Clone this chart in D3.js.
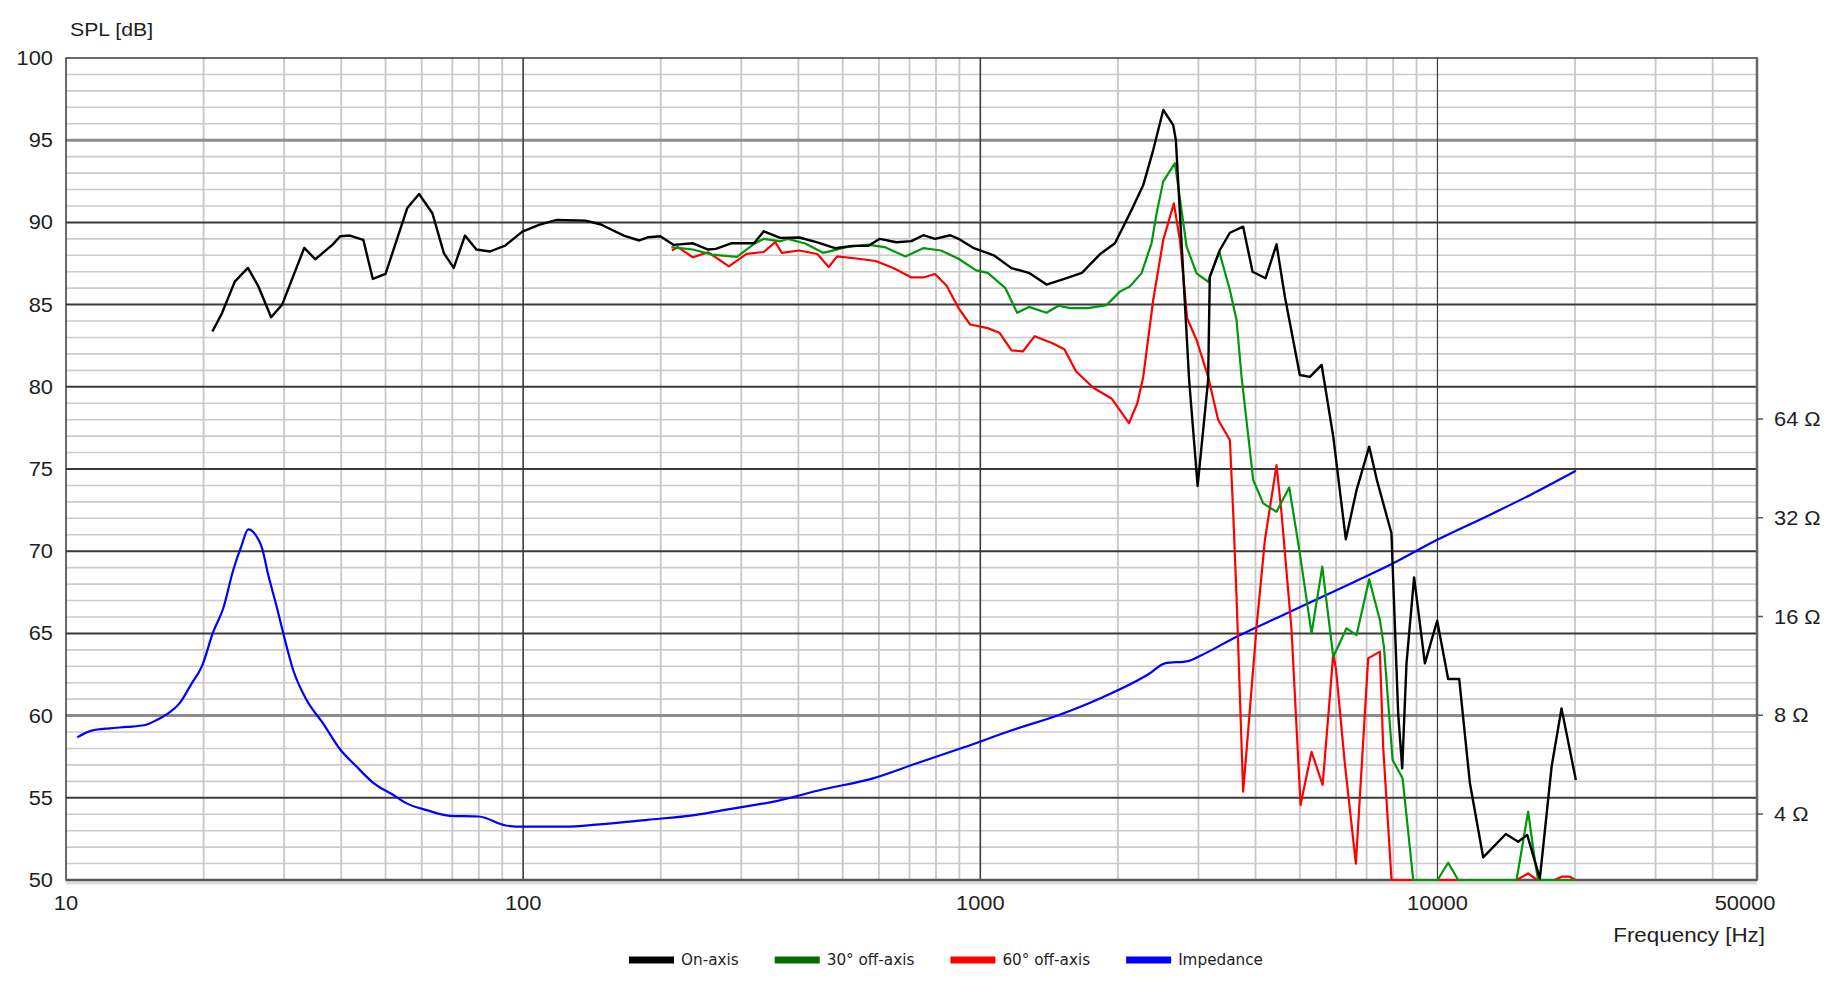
<!DOCTYPE html>
<html>
<head>
<meta charset="utf-8">
<script src="https://d3js.org/d3.v7.min.js"></script>
<style>
  html, body { margin: 0; padding: 0; background: #fff; }
  svg { display: block; }
</style>
</head>
<body>
<svg id="chart" width="1844" height="996"></svg>
<script>
// ---------------- DATA ----------------
const splTicks = [50, 55, 60, 65, 70, 75, 80, 85, 90, 95, 100];
const freqTicks = [10, 100, 1000, 10000, 50000];
const impTicks = [4, 8, 16, 32, 64];
const seriesNames = ["On-axis", "30° off-axis", "60° off-axis", "Impedance"];

// [frequency Hz, SPL dB]
const onAxis = [
  [20.9,83.36],[21.9,84.43],[23.4,86.4],[25.0,87.23],[26.3,86.16],[28.1,84.23],[29.7,85.0],
  [33.2,88.45],[35.1,87.76],[38.3,88.65],[39.8,89.16],[41.8,89.2],[44.7,88.94],[46.9,86.56],
  [50,86.87],[55.8,90.88],[59.2,91.73],[63.3,90.56],[67.1,88.12],[70.5,87.23],[74.6,89.2],
  [79,88.35],[84.6,88.23],[91.3,88.59],[99.6,89.44],[108.7,89.87],[118.5,90.15],[137,90.11],
  [148,89.87],[166,89.2],[179.5,88.9],[188,89.1],[199.5,89.16],[213.5,88.63],[235,88.73],
  [254,88.35],[264,88.39],[285,88.73],[320,88.73],[336,89.46],[365,89.06],[402,89.08],
  [440,88.79],[481,88.43],[526,88.57],[568,88.57],[603,89.0],[655,88.79],[707,88.86],
  [750,89.22],[796,89.0],[860,89.22],[896,89.0],[968,88.43],[1070,88.0],[1170,87.22],
  [1277,86.93],[1396,86.22],[1527,86.57],[1668,86.93],[1826,88.06],[1970,88.73],[2054,89.74],
  [2160,90.96],[2272,92.27],[2389,94.4],[2513,96.84],[2642,95.92],[2678,95.0],[2863,80.4],
  [2988,73.97],[3150,80.4],[3177,86.7],[3342,88.32],[3515,89.37],[3758,89.74],[3940,87.0],
  [4207,86.6],[4446,88.67],[4637,85.48],[5000,80.72],[5260,80.6],[5580,81.33],[5916,76.97],
  [6303,70.72],[6653,73.72],[7090,76.36],[7370,74.33],[7931,71.09],[8204,60.14],[8373,56.79],
  [8556,63.18],[8890,68.41],[9385,63.18],[9986,65.77],[10554,62.23],[11156,62.23],[11776,55.88],
  [12589,51.38],[14113,52.8],[15020,52.33],[15714,52.74],[16750,50.1],[17770,56.9],
  [18680,60.44],[20080,56.08]
];

const offAxis30 = [
  [211,88.5],[235,88.35],[259,88.04],[293.5,87.9],[320,88.7],[336,89.0],[365,88.85],[379,89.0],
  [414,88.72],[453,88.15],[510,88.5],[567,88.65],[617,88.5],[686,87.93],[750,88.43],[820,88.29],
  [896,87.79],[979,87.08],[1038,86.93],[1135,86.0],[1204,84.5],[1277,84.86],[1396,84.5],
  [1482,84.93],[1572,84.79],[1719,84.79],[1889,84.97],[2020,85.79],[2123,86.1],[2252,86.9],
  [2369,88.73],[2430,90.55],[2512,92.48],[2665,93.6],[2710,92.17],[2827,88.52],[2972,86.9],
  [3151,86.39],[3331,88.22],[3515,85.89],[3635,84.06],[3728,80.6],[3954,74.33],[4157,72.91],
  [4446,72.4],[4740,73.88],[5000,69.87],[5304,65.0],[5598,69.06],[5916,63.58],[6326,65.31],
  [6653,64.9],[7090,68.29],[7482,65.82],[7636,64.2],[7978,57.3],[8388,56.19],[8851,50],
  [10000,50],[10554,51.05],[11100,50],[14893,50],[15790,54.16],[16330,51.2],[16600,50],[20000,50]
];

const offAxis60 = [
  [211.5,88.29],[218,88.5],[235,87.88],[254,88.18],[282,87.33],[308,88.08],[336,88.2],[356,88.8],
  [368,88.15],[402,88.29],[440,88.08],[466,87.29],[486,87.93],[541,87.79],[590,87.65],[645,87.22],
  [707,86.65],[750,86.65],[796,86.86],[844,86.15],[896,84.79],[950,83.79],[1038,83.57],
  [1101,83.29],[1170,82.22],[1239,82.15],[1315,83.08],[1439,82.65],[1527,82.29],[1620,80.93],
  [1770,79.93],[1936,79.29],[2115,77.79],[2205,79.0],[2272,80.6],[2389,85.28],[2513,88.93],
  [2651,91.16],[2733,88.93],[2834,84.17],[2972,82.85],[3151,80.6],[3314,77.98],[3515,76.76],
  [3575,72.3],[3635,67.23],[3758,55.37],[3855,59.12],[4021,65.41],[4193,70.68],[4446,75.24],
  [4560,72.3],[4795,65.21],[5018,54.56],[5304,57.8],[5608,55.78],[5816,61.15],[5916,63.79],
  [6000,62.8],[6271,57.1],[6630,51.0],[7054,63.48],[7482,63.89],[7607,58.1],[7935,50],
  [14893,50],[15790,50.4],[16500,50],[18000,50],[18700,50.2],[19500,50.2],[20000,50]
];

// [frequency Hz, impedance Ohm]
const impedance = [
  [10.58,6.85],[11.38,7.18],[12.48,7.30],[13.58,7.37],[14.89,7.47],[15.79,7.74],[16.61,8.05],
  [17.76,8.74],[18.84,10.01],[19.81,11.25],[21.0,14.38],[22.08,16.95],[23.22,22.18],[24.23,26.42],
  [25.04,29.5],[26.34,27.5],[26.79,26.1],[27.7,21.4],[28.9,17.13],[29.87,14.22],[31.4,10.99],
  [33.6,8.90],[36.5,7.56],[39.76,6.30],[43.2,5.58],[47.0,4.98],[52.0,4.57],[55.6,4.31],
  [61.5,4.11],[69.2,3.95],[80,3.93],[91.6,3.69],[100,3.66],[123,3.66],[147,3.72],[187,3.84],
  [237,3.97],[283,4.14],[358,4.38],[454,4.76],[575,5.11],[729,5.72],[925,6.4],[1172,7.2],
  [1480,8.0],[1826,9.0],[2350,10.74],[2533,11.52],[2850,11.70],[3022,12.13],[3636,13.88],
  [4598,16.17],[5916,19.04],[8000,23.24],[10037,27.5],[12805,32.3],[15930,37.5],[20080,44.5]
];

// ---------------- LAYOUT ----------------
const L = 66, R = 1757, T = 58, B = 880;
const svg = d3.select("#chart");
const x = d3.scaleLog().domain([10, 50000]).range([L, R]);
const y = d3.scaleLinear().domain([50, 100]).range([B, T]);
const yZ = d3.scaleLog().base(2).domain([4, 64]).range([814, 419]);

const FONT = "'Liberation Sans', Arial, sans-serif";
const STRETCH = 1.12;
function label(g, px, py, str, anchor, size) {
  return g.append("text")
    .attr("transform", `translate(${px},${py}) scale(${STRETCH},1)`)
    .attr("text-anchor", anchor)
    .attr("dominant-baseline", "central")
    .attr("font-family", FONT)
    .attr("font-size", size || 19.5)
    .attr("fill", "#1e1e1e")
    .text(str);
}

const grid = svg.append("g");
// horizontal minor (1 dB)
d3.range(51, 100).filter(v => v % 5 !== 0).forEach(v => {
  grid.append("line").attr("x1", L).attr("x2", R).attr("y1", y(v)).attr("y2", y(v))
    .attr("stroke", "#cbcbcb").attr("stroke-width", 1.6);
});
// vertical minor
const minorF = [];
[10, 100, 1000, 10000].forEach(d => {
  for (let m = 2; m <= 9; m++) { const f = m * d; if (f < 50000) minorF.push(f); }
});
minorF.forEach(f => {
  grid.append("line").attr("x1", x(f)).attr("x2", x(f)).attr("y1", T).attr("y2", B)
    .attr("stroke", "#c8c8c8").attr("stroke-width", 1.8);
});
// horizontal major (5 dB)
splTicks.filter(v => v > 50 && v < 100).forEach(v => {
  const grayish = (v === 95 || v === 60);
  grid.append("line").attr("x1", L).attr("x2", R).attr("y1", y(v)).attr("y2", y(v))
    .attr("stroke", grayish ? "#8c8c8c" : "#3a3a3a")
    .attr("stroke-width", grayish ? 3 : 2);
});
// decade lines
[100, 1000, 10000].forEach(f => {
  grid.append("line").attr("x1", x(f)).attr("x2", x(f)).attr("y1", T).attr("y2", B)
    .attr("stroke", "#3c3c3c").attr("stroke-width", f === 10000 ? 1.2 : 1.6);
});
// frame
grid.append("line").attr("x1", L).attr("x2", R).attr("y1", B + 3).attr("y2", B + 3)
  .attr("stroke", "#dcdcdc").attr("stroke-width", 3);
grid.append("rect").attr("x", L).attr("y", T).attr("width", R - L).attr("height", B - T)
  .attr("fill", "none").attr("stroke", "#3a3a3a").attr("stroke-width", 1.5);
grid.append("line").attr("x1", L).attr("x2", R).attr("y1", B).attr("y2", B)
  .attr("stroke", "#555").attr("stroke-width", 2.5);
grid.append("line").attr("x1", R).attr("x2", R).attr("y1", T).attr("y2", B)
  .attr("stroke", "#666").attr("stroke-width", 2.5);

// impedance ticks
const axG = svg.append("g");
impTicks.forEach(z => {
  axG.append("line").attr("x1", R).attr("x2", R + 6).attr("y1", yZ(z)).attr("y2", yZ(z))
    .attr("stroke", "#555").attr("stroke-width", 1.5);
  label(axG, R + 17, yZ(z), `${z} Ω`, "start");
});
// SPL tick labels
splTicks.forEach(v => label(axG, 53, y(v), String(v), "end"));
// frequency tick labels
freqTicks.forEach((f, i) => {
  const px = x(f) + (i === freqTicks.length - 1 ? -12 : 0);
  label(axG, px, 903, String(f), "middle");
});
label(axG, 70, 29, "SPL [dB]", "start", 19);
label(axG, 1765, 935, "Frequency [Hz]", "end", 20);

// ---------------- CURVES ----------------
const lineSPL = d3.line().x(d => x(d[0])).y(d => y(d[1]));
const lineZ = d3.line().x(d => x(d[0])).y(d => yZ(d[1])).curve(d3.curveMonotoneX);
const curves = svg.append("g").attr("fill", "none").attr("stroke-linejoin", "round");

curves.append("path").datum(impedance).attr("d", lineZ)
  .attr("stroke", "#0000ff").attr("stroke-width", 2.2);
curves.append("path").datum(offAxis60).attr("d", lineSPL)
  .attr("stroke", "#ff0000").attr("stroke-width", 2.2);
curves.append("path").datum(offAxis30).attr("d", lineSPL)
  .attr("stroke", "#00980a").attr("stroke-width", 2.2);
curves.append("path").datum(onAxis).attr("d", lineSPL)
  .attr("stroke", "#000000").attr("stroke-width", 2.4);

// ---------------- LEGEND ----------------
const legendColors = ["#000000", "#006f00", "#ff0000", "#0000ff"];
const leg = svg.append("g");
let lx = 629;
const ly = 960;
seriesNames.forEach((name, i) => {
  leg.append("rect").attr("x", lx).attr("y", ly - 3.5).attr("width", 45).attr("height", 7)
    .attr("fill", legendColors[i]);
  const t = leg.append("text")
    .attr("transform", `translate(${lx + 52},${ly}) scale(1.06,1)`)
    .attr("dominant-baseline", "central")
    .attr("font-family", "'DejaVu Sans Condensed', 'DejaVu Sans', sans-serif")
    .attr("font-stretch", "condensed")
    .attr("font-size", 16)
    .attr("fill", "#1e1e1e")
    .text(name);
  const w = t.node().getComputedTextLength() * 1.06;
  lx += 52 + w + 36;
});
</script>
</body>
</html>
